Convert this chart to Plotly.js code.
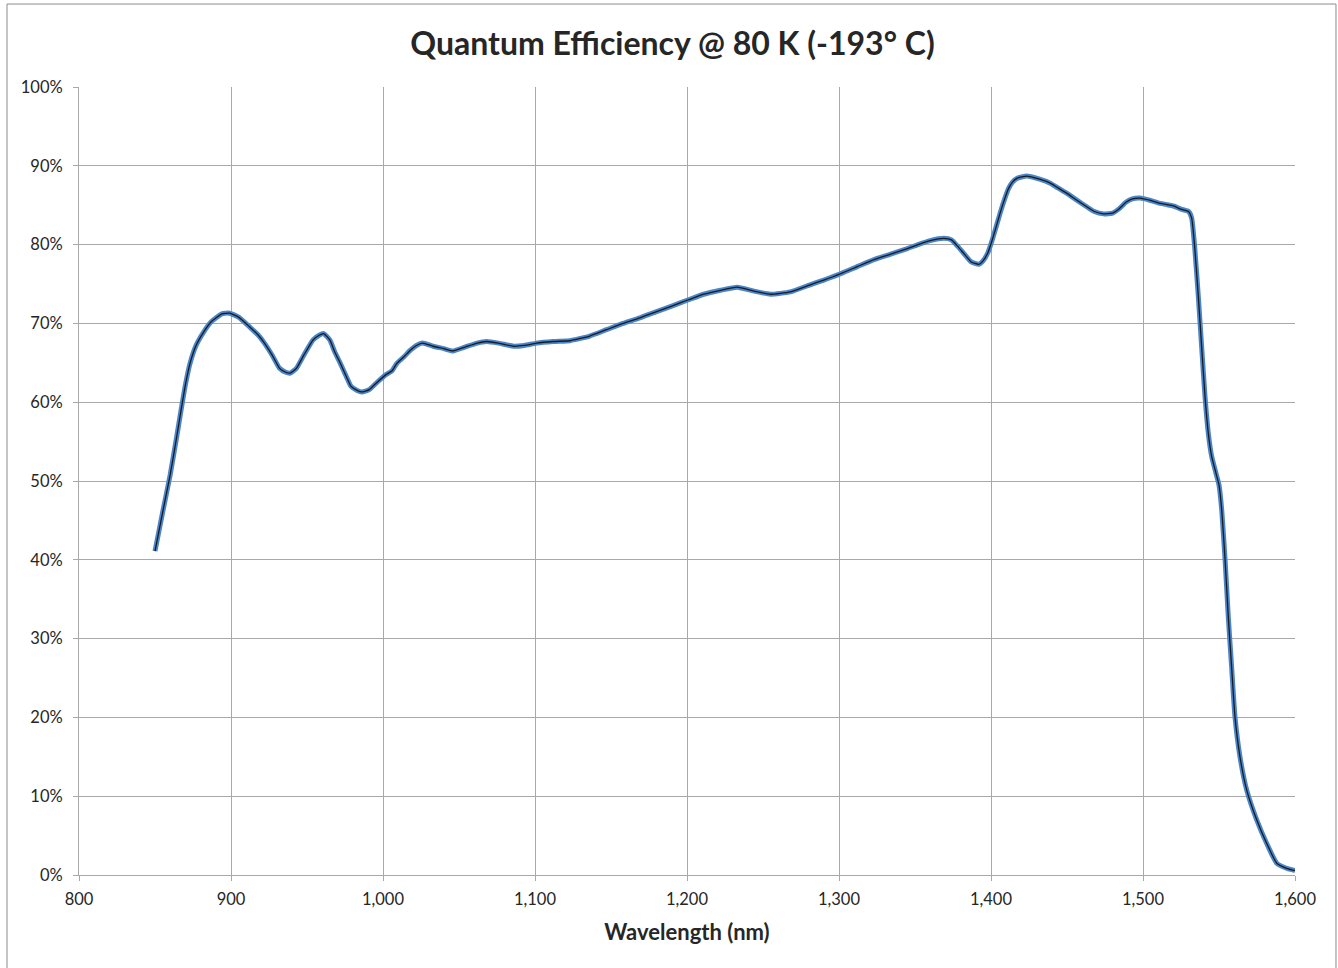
<!DOCTYPE html>
<html>
<head>
<meta charset="utf-8">
<script src="https://cdn.plot.ly/plotly-3.0.1.min.js"></script>
<style>
  html, body { margin: 0; padding: 0; background: #fff; }
  #chart { width: 1338px; height: 968px; }
</style>
</head>
<body>
<div id="chart"></div>
<script>
// Wavelength (nm)
const wavelength = [
  850, 855, 860, 864, 867.5, 870, 873, 877, 882, 887, 894, 899, 905, 912, 918, 922, 927, 932, 936, 939,
  943, 948, 954, 958, 961, 965, 968, 972, 976, 979, 983, 986, 991, 996, 1002, 1006, 1009, 1014, 1018, 1022,
  1026, 1033, 1040, 1046, 1054, 1062, 1068, 1076, 1086, 1093, 1101, 1112, 1123, 1130, 1136, 1147, 1158, 1169, 1180, 1190,
  1201, 1211, 1222, 1233, 1244, 1255, 1268, 1281, 1290, 1301, 1312, 1323, 1334, 1345, 1352, 1360, 1369, 1374, 1378, 1382,
  1387, 1392, 1395, 1398, 1400.5, 1403, 1406, 1409, 1411.5, 1414, 1417, 1423.5, 1432, 1439, 1444, 1450, 1456, 1463, 1468, 1474,
  1480, 1484, 1489, 1493, 1498, 1505, 1510, 1515, 1520, 1525, 1530, 1532, 1534, 1536.4, 1538.6, 1540.8, 1543, 1545.2, 1548, 1550,
  1551.8, 1554, 1556.1, 1558.3, 1560.5, 1563.8, 1568.2, 1574.8, 1581.4, 1588, 1594.5, 1600
];
// Quantum efficiency (%)
const qe = [
  41.1, 46.0, 50.8, 55.3, 59.4, 62.2, 64.9, 67.2, 68.9, 70.2, 71.2, 71.3, 70.8, 69.6, 68.5, 67.5, 66.0, 64.3, 63.8, 63.7,
  64.3, 66.0, 67.9, 68.5, 68.7, 67.9, 66.5, 64.9, 63.2, 62.0, 61.5, 61.3, 61.6, 62.5, 63.5, 64.0, 64.9, 65.8, 66.6, 67.2,
  67.5, 67.1, 66.8, 66.5, 67.0, 67.5, 67.7, 67.5, 67.1, 67.2, 67.5, 67.7, 67.8, 68.1, 68.4, 69.2, 70.0, 70.7, 71.5, 72.2,
  73.0, 73.7, 74.2, 74.6, 74.1, 73.7, 74.0, 74.9, 75.5, 76.3, 77.2, 78.1, 78.8, 79.5, 80.0, 80.5, 80.8, 80.6, 79.8, 78.9,
  77.8, 77.5, 78.0, 79.0, 80.4, 82.0, 84.0, 85.8, 87.1, 87.9, 88.4, 88.7, 88.3, 87.8, 87.2, 86.5, 85.7, 84.8, 84.2, 83.9,
  84.0, 84.5, 85.4, 85.8, 85.9, 85.6, 85.3, 85.1, 84.9, 84.5, 84.2, 83.4, 79.7, 73.4, 67.0, 60.7, 56.0, 53.1, 51.0, 49.5,
  46.3, 40.0, 32.8, 26.4, 20.1, 15.0, 10.8, 7.0, 4.0, 1.5, 0.85, 0.55
];

const xTicks = [800, 900, 1000, 1100, 1200, 1300, 1400, 1500, 1600];
const xTickLabels = ['800', '900', '1,000', '1,100', '1,200', '1,300', '1,400', '1,500', '1,600'];
const yTicks = [0, 10, 20, 30, 40, 50, 60, 70, 80, 90, 100];
const yTickLabels = ['0%', '10%', '20%', '30%', '40%', '50%', '60%', '70%', '80%', '90%', '100%'];

const FONT = 'Lato, "Open Sans", "Liberation Sans", sans-serif';
const GRID = '#a9a9a9';
const TXT = '#262626';

const traces = [
  {
    x: wavelength, y: qe, type: 'scatter', mode: 'lines',
    line: { color: '#4a86c8', width: 5, shape: 'spline', smoothing: 0.5 },
    hoverinfo: 'skip', showlegend: false
  },
  {
    x: wavelength, y: qe, type: 'scatter', mode: 'lines',
    line: { color: '#1a1a22', width: 1.3, shape: 'spline', smoothing: 0.5 },
    showlegend: false
  }
];

const layout = {
  width: 1338, height: 968,
  margin: { l: 79, r: 43, t: 87, b: 93, pad: 0 },
  paper_bgcolor: '#ffffff', plot_bgcolor: '#ffffff',
  font: { family: FONT, size: 16, color: TXT },
  title: {
    text: '<b>Quantum Efficiency @ 80 K (-193° C)</b>',
    font: { family: FONT, size: 32, color: TXT },
    xref: 'container', yref: 'container', x: 0.5026, y: 0.955, xanchor: 'center', yanchor: 'middle'
  },
  xaxis: {
    range: [800, 1600], tickmode: 'array', tickvals: xTicks, ticktext: xTickLabels,
    showgrid: true, gridcolor: GRID, gridwidth: 1,
    showline: true, linecolor: GRID, linewidth: 1, mirror: false,
    ticks: 'outside', ticklen: 5, tickcolor: GRID,
    zeroline: false,
    tickfont: { family: FONT, size: 16.5, color: TXT },
    ticklabelstandoff: 4,
    title: { text: '<b>Wavelength (nm)</b>', font: { family: FONT, size: 22, color: TXT }, standoff: 16 }
  },
  yaxis: {
    range: [0, 100], tickmode: 'array', tickvals: yTicks, ticktext: yTickLabels,
    showgrid: true, gridcolor: GRID, gridwidth: 1,
    showline: true, linecolor: GRID, linewidth: 1,
    ticks: 'outside', ticklen: 5, tickcolor: GRID,
    zeroline: false,
    tickfont: { family: FONT, size: 16.5, color: TXT },
    ticklabelstandoff: 7
  },
  shapes: [
    {
      type: 'rect', xref: 'paper', yref: 'paper', layer: 'below',
      x0: -0.0592, x1: 1.0337, y0: -0.125, y1: 1.1053,
      line: { color: '#8c8c8c', width: 1 }, fillcolor: 'rgba(0,0,0,0)'
    }
  ]
};

Plotly.newPlot('chart', traces, layout, { staticPlot: true, displayModeBar: false });
</script>
</body>
</html>
